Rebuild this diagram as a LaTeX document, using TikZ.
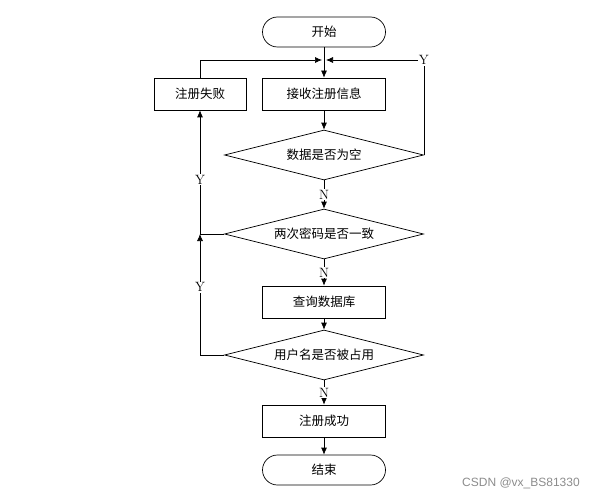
\documentclass[tikz,border=0pt]{standalone}
\usepackage{fontspec}
\newfontfamily\cjk{Noto Sans CJK SC}
\newfontfamily\wmfont{Liberation Sans}
\usepackage{tikz}
\usetikzlibrary{shapes,arrows.meta,positioning}

\tikzset{
    terminal/.style={draw, rounded corners=15pt, minimum width=123pt, minimum height=30pt, font=\cjk\fontsize{12.5}{14}\selectfont},
    process/.style={draw, minimum width=123pt, minimum height=32pt, font=\cjk\fontsize{12.5}{14}\selectfont},
    decision/.style={draw, diamond, aspect=4, inner sep=0pt, minimum width=199pt, minimum height=50pt, font=\cjk\fontsize{12.5}{14}\selectfont},
    arr/.style={-{Latex[length=7pt,width=6pt]}},
    lbl/.style={fill=white, inner sep=1pt, font=\fontsize{13.5}{15}\selectfont}
}

\begin{document}
\begin{tikzpicture}[x=1pt, y=-1pt, line width=0.7pt]
    \useasboundingbox (0,0) rectangle (610,500);
    % Main column
    \node[terminal] (start) at (324,32) {开始};
    \node[process] (recv) at (324,94) {接收注册信息};
    \node[process, minimum width=92pt] (fail) at (200,94) {注册失败};
    \node[decision] (empty) at (324,155) {数据是否为空};
    \node[decision] (pwd) at (324,234) {两次密码是否一致};
    \node[process] (query) at (324,302) {查询数据库};
    \node[decision] (used) at (324,355) {用户名是否被占用};
    \node[process] (ok) at (324,421) {注册成功};
    \node[terminal] (stop) at (324,470) {结束};
    \coordinate (merge) at (324,60);
    \coordinate (join) at (fail.south |- pwd.west);
    % Connectors
    \draw[arr] (start) -- (recv);
    \draw[arr] (recv) -- (empty);
    \draw[arr] (empty.south) -- node[lbl] {N} (pwd.north);
    \draw[arr] (pwd.south) -- node[lbl] {N} (query.north);
    \draw[arr] (query) -- (used);
    \draw[arr] (used.south) -- node[lbl] {N} (ok.north);
    \draw[arr] (ok) -- (stop);
    % Loops back
    \draw[arr] (empty.east) |- node[lbl] {Y} ([xshift=2pt]merge);
    \draw[arr] (fail.north) |- ([xshift=-2pt]merge);
    \draw[arr] (pwd.west) -| node[lbl, pos=0.72] {Y} (fail.south);
    \draw[arr] (used.west) -| node[lbl, pos=0.78] {Y} (join);
    % Watermark
    \node[text=black!45, font=\wmfont\fontsize{12}{14}\selectfont] (mark) at (521,483) {CSDN @vx\_BS81330};
\end{tikzpicture}
\end{document}
